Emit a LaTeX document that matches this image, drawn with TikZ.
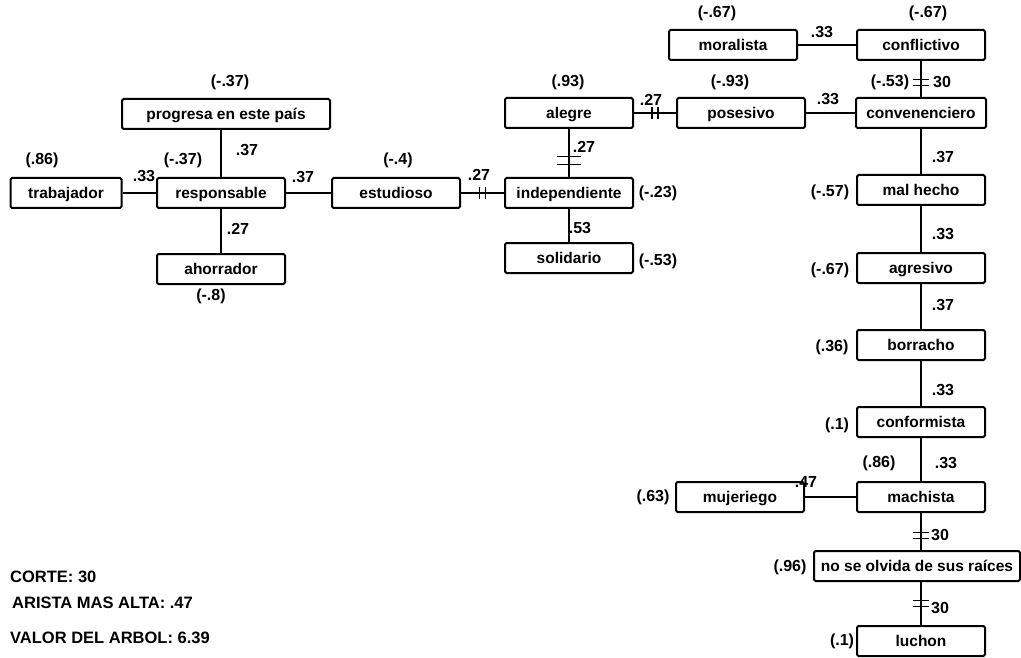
\documentclass[tikz,border=0pt]{standalone}
\usepackage{fontspec}
\setmainfont{Liberation Sans}
\begin{document}
\begin{tikzpicture}[x=1pt,y=-1pt,
  box/.style={draw, line width=2pt, rounded corners=1.5pt, minimum height=30pt,
    minimum width=128pt, inner sep=0pt, text height=12.5pt, text depth=1.5pt,
    font=\fontsize{15.5}{16}\selectfont\bfseries},
  lbl/.style={inner sep=0pt, font=\fontsize{16}{16}\selectfont\bfseries},
  info/.style={inner sep=0pt, anchor=west, font=\fontsize{16.5}{17}\selectfont\bfseries},
  edge/.style={line width=1.8pt},
  cuth/.pic={\draw[line width=1.3pt] (-3,-6) -- (-3,6) (3,-6) -- (3,6);},
  cutv/.pic={\draw[line width=1.3pt] (-8,-3) -- (8,-3) (-8,3) -- (8,3);},
  cutvw/.pic={\draw[line width=1.3pt] (-12,-4) -- (12,-4) (-12,4) -- (12,4);}
]
\useasboundingbox (0,0) rectangle (1021,658);
% nodes
\node[box, minimum width=111pt] (trab) at (66,193) {trabajador};
\node[box] (resp) at (221,193) {responsable};
\node[box, minimum width=208pt] (prog) at (226,114) {progresa en este país};
\node[box] (ahor) at (221,269) {ahorrador};
\node[box] (estu) at (396,193) {estudioso};
\node[box] (inde) at (569,193) {independiente};
\node[box] (aleg) at (569,113) {alegre};
\node[box] (soli) at (569,258) {solidario};
\node[box] (pose) at (741,113) {posesivo};
\node[box] (mora) at (733,45) {moralista};
\node[box] (conf) at (921,45) {conflictivo};
\node[box, minimum width=130pt] (conv) at (921,113) {convenenciero};
\node[box] (malh) at (921,190) {mal hecho};
\node[box] (agre) at (921,268) {agresivo};
\node[box] (borr) at (921,345) {borracho};
\node[box] (conm) at (921,422) {conformista};
\node[box] (muje) at (740,497) {mujeriego};
\node[box] (mach) at (921,497) {machista};
\node[box, minimum width=206pt] (olvi) at (917,566) {no se olvida de sus raíces};
\node[box] (luch) at (921,641) {luchon};
% edges
\draw[edge] (trab) -- (resp);
\draw[edge] (resp) -- (prog.south -| resp);
\draw[edge] (resp) -- (ahor);
\draw[edge] (resp) -- (estu);
\draw[edge] (estu) -- coordinate (c1) (inde);
\draw[edge] (inde) -- coordinate[pos=0.34] (c2) (aleg);
\draw[edge] (inde) -- (soli);
\draw[edge] (aleg) -- coordinate (c3) (pose);
\draw[edge] (pose) -- (conv);
\draw[edge] (mora) -- (conf);
\draw[edge] (conf) -- coordinate[pos=0.6] (c4) (conv);
\draw[edge] (conv) -- (malh);
\draw[edge] (malh) -- (agre);
\draw[edge] (agre) -- (borr);
\draw[edge] (borr) -- (conm);
\draw[edge] (conm) -- (mach);
\draw[edge] (muje) -- (mach);
\draw[edge] (mach) -- coordinate[pos=0.6] (c5) (olvi.north -| mach);
\draw[edge] (olvi.south -| luch) -- coordinate[pos=0.5] (c6) (luch);
% cut marks
\pic at (c1) {cuth};
\pic at (c2) {cutvw};
\pic at (c3) {cuth};
\pic at (c4) {cutv};
\pic at (c5) {cutv};
\pic at (c6) {cutv};
% labels
\node[lbl] (l1) at (42,160) {(.86)};
\node[lbl] (l2) at (183,160) {(-.37)};
\node[lbl] (l3) at (144,176) {.33};
\node[lbl] (l4) at (247,150) {.37};
\node[lbl] (l5) at (303,177) {.37};
\node[lbl] (l6) at (238,229) {.27};
\node[lbl] (l7) at (211,296) {(-.8)};
\node[lbl] (l8) at (230,82) {(-.37)};
\node[lbl] (l9) at (398,160) {(-.4)};
\node[lbl] (l10) at (479,175) {.27};
\node[lbl] (l11) at (568,82) {(.93)};
\node[lbl] (l12) at (584,147) {.27};
\node[lbl] (l13) at (580,228) {.53};
\node[lbl] (l14) at (658,193) {(-.23)};
\node[lbl] (l15) at (658,261) {(-.53)};
\node[lbl] (l16) at (651,100) {.27};
\node[lbl] (l17) at (730,82) {(-.93)};
\node[lbl] (l18) at (828,99) {.33};
\node[lbl] (l19) at (717,13) {(-.67)};
\node[lbl] (l20) at (822,32) {.33};
\node[lbl] (l21) at (928,13) {(-.67)};
\node[lbl] (l22) at (890,82) {(-.53)};
\node[lbl] (l23) at (942,82) {30};
\node[lbl] (l24) at (943,157) {.37};
\node[lbl] (l25) at (830,192) {(-.57)};
\node[lbl] (l26) at (943,234) {.33};
\node[lbl] (l27) at (830,270) {(-.67)};
\node[lbl] (l28) at (943,305) {.37};
\node[lbl] (l29) at (832,347) {(.36)};
\node[lbl] (l30) at (943,390) {.33};
\node[lbl] (l31) at (837,425) {(.1)};
\node[lbl] (l32) at (879,463) {(.86)};
\node[lbl] (l33) at (946,463) {.33};
\node[lbl] (l34) at (806,482) {.47};
\node[lbl] (l35) at (653,497) {(.63)};
\node[lbl] (l36) at (940,535) {30};
\node[lbl] (l37) at (790,567) {(.96)};
\node[lbl] (l38) at (940,608) {30};
\node[lbl] (l39) at (842,641) {(.1)};
% info
\node[info] (i1) at (10,577) {CORTE: 30};
\node[info] (i2) at (12,603) {ARISTA MAS ALTA: .47};
\node[info] (i3) at (10,638) {VALOR DEL ARBOL: 6.39};
\end{tikzpicture}
\end{document}
